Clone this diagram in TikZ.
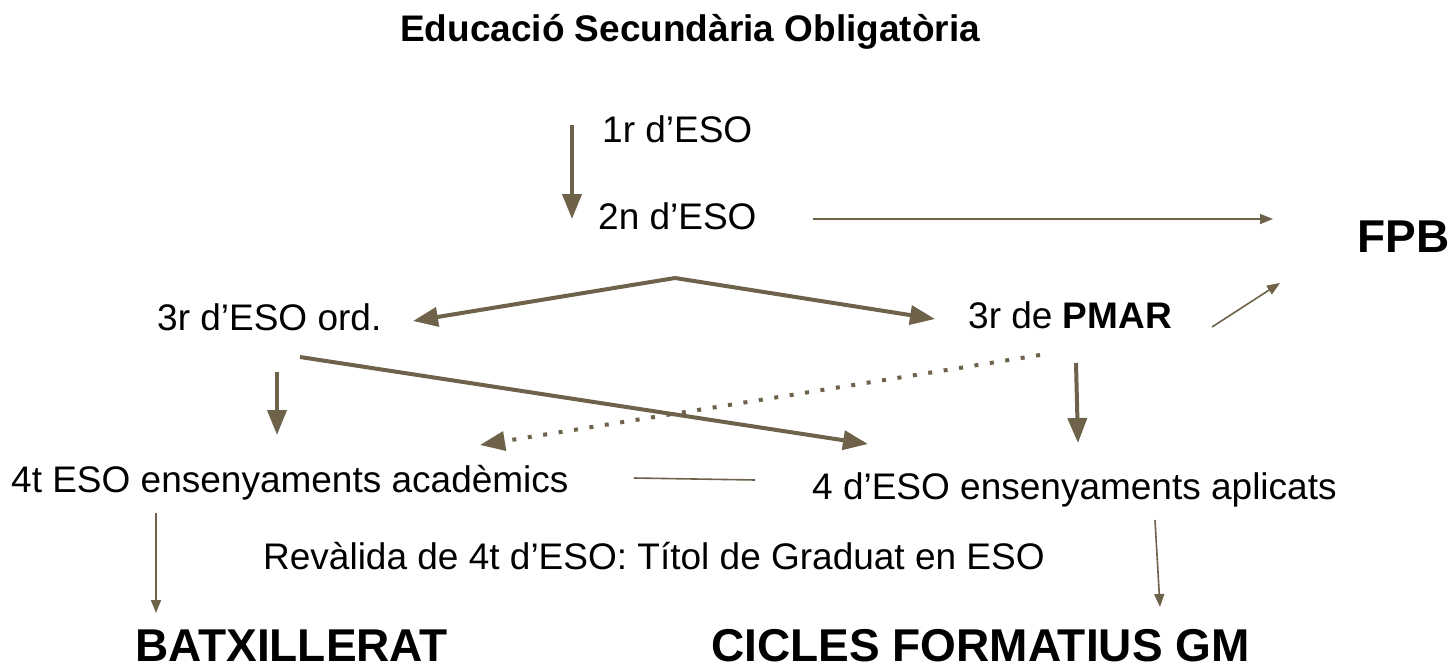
\documentclass[tikz,border=0pt]{standalone}
\usepackage{fontspec}
\setmainfont{Liberation Sans}
\usetikzlibrary{arrows.meta}
\definecolor{arr}{RGB}{110,98,75}
\begin{document}
\begin{tikzpicture}[x=1pt,y=-1pt,
  txt/.style={anchor=base west, inner sep=0pt, font=\fontsize{37}{44}\selectfont},
  ttl/.style={anchor=base west, inner sep=0pt, font=\fontsize{37}{44}\selectfont\bfseries},
  big/.style={anchor=base west, inner sep=0pt, text depth=0pt, font=\fontsize{46}{55}\selectfont\bfseries},
  thickarrow/.style={draw=arr, line width=4pt, -{Triangle[length=25pt,width=19pt]}},
  thinarrow/.style={draw=arr, line width=1.6pt, -{Triangle[length=13pt,width=10pt]}},
  thinline/.style={draw=arr, line width=1.6pt},
  dotarrow/.style={draw=arr, line width=4pt, dash pattern=on 4pt off 11.6pt, -{Triangle[length=25pt,width=19pt]}}
]
\useasboundingbox (0,0) rectangle (1452,669);
\fill[white] (0,0) rectangle (1452,669);

% texts
\node[ttl] (title) at (400,42) {Educació Secundària Obligatòria};
\node[txt] (e1) at (602,142) {1r d’ESO};
\node[txt] (e2) at (598,229) {2n d’ESO};
\node[big] (fpb) at (1357,252) {FPB};
\node[txt] (e3o) at (157,330) {3r d’ESO ord.};
\node[txt] (e3p) at (968,328) {3r de \textbf{PMAR}};
\node[txt] (e4a) at (11,492) {4t ESO ensenyaments acadèmics};
\node[txt] (e4b) at (812,499) {4 d’ESO ensenyaments aplicats};
\node[txt] (rev) at (263,569) {Revàlida de 4t d’ESO: Títol de Graduat en ESO};
\node[big] (batx) at (135,661) {BATXILLERAT};
\node[big] (cfgm) at (711,661) {CICLES FORMATIUS GM};

% connector end points
\coordinate (a1s) at (572,125);
\coordinate (a1e) at (572,219);
\coordinate (h1s) at (813,219);
\coordinate (h1e) at (1273,219);
\coordinate (apex) at (675,278);
\coordinate (lt) at (413,321);
\coordinate (rt) at (935,319);
\coordinate (pfs) at (1212,327);
\coordinate (pfe) at (1280,283);
\coordinate (ld1) at (277,372);
\coordinate (ld2) at (277,435);
\coordinate (lgs) at (300,357);
\coordinate (lge) at (868,444);
\coordinate (dts) at (1040,355);
\coordinate (dte) at (480,445);
\coordinate (pd1) at (1076,363);
\coordinate (pd2) at (1078,443);
\coordinate (mls) at (634,478);
\coordinate (mle) at (755,480);
\coordinate (bd1) at (156,513);
\coordinate (bd2) at (156,613);
\coordinate (cd1) at (1155,520);
\coordinate (cd2) at (1160,607);

% connectors
\draw[thickarrow] (a1s) -- (a1e);
\draw[thinarrow] (h1s) -- (h1e);
\draw[thickarrow] (apex) -- (lt);
\draw[thickarrow] (apex) -- (rt);
\draw[thinarrow] (pfs) -- (pfe);
\draw[thickarrow] (ld1) -- (ld2);
\draw[thickarrow] (lgs) -- (lge);
\draw[dotarrow] (dts) -- (dte);
\draw[thickarrow] (pd1) -- (pd2);
\draw[thinline] (mls) -- (mle);
\draw[thinarrow] (bd1) -- (bd2);
\draw[thinarrow] (cd1) -- (cd2);
\end{tikzpicture}
\end{document}
